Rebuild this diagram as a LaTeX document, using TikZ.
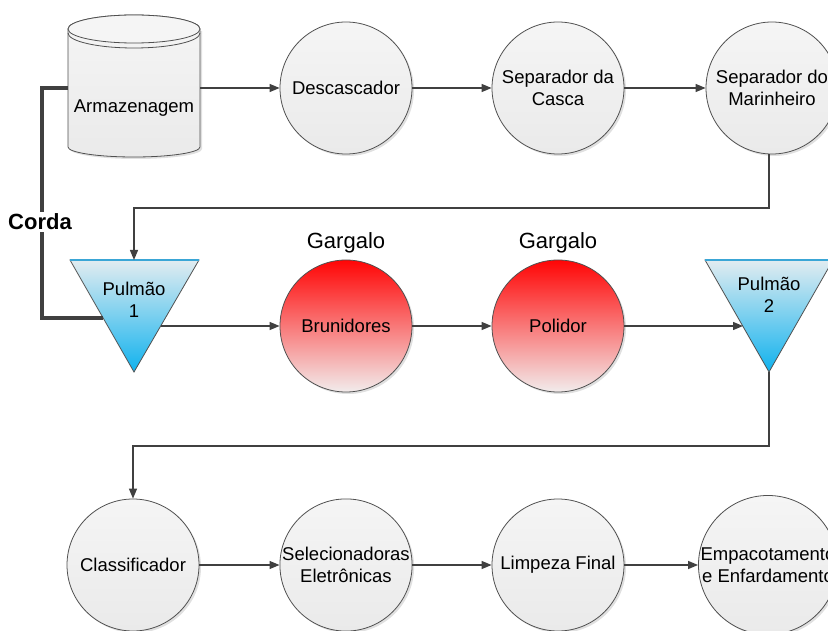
\documentclass[tikz,border=0pt]{standalone}
\usepackage{fontspec}
\setmainfont{Liberation Sans}
\usetikzlibrary{arrows.meta,shadows}
\definecolor{ln}{HTML}{404040}
\definecolor{edge}{HTML}{505050}
\definecolor{graytop}{HTML}{F5F5F5}
\definecolor{graybot}{HTML}{EAEAEA}
\definecolor{hottop}{HTML}{FF0505}
\definecolor{hotbot}{HTML}{F2ECEC}
\definecolor{bufftop}{HTML}{E2ECF0}
\definecolor{buffbot}{HTML}{10B2EE}
\definecolor{buffrim}{HTML}{3AA6D6}
\begin{document}
\begin{tikzpicture}[x=1pt,y=-1pt,
  txt/.style={font=\fontsize{18.5}{22}\selectfont,align=center},
  proc/.style={circle,draw=edge,line width=0.8pt,minimum size=132pt,inner sep=0pt,
    txt,top color=graytop,bottom color=graybot,
    drop shadow={shadow xshift=2pt,shadow yshift=-2pt,fill=black,opacity=.12}},
  hot/.style={proc,top color=hottop,bottom color=hotbot},
  buffer/.style={draw=edge,line width=0.8pt,top color=bufftop,bottom color=buffbot},
  arr/.style={draw=ln,line width=1.3pt,-{Triangle[length=10pt,width=8pt]}},
  rope/.style={draw=ln,line width=4pt},
  tag/.style={font=\fontsize{22}{26}\selectfont},
]
\clip (0,0) rectangle (828,631);

% storage cylinder
\fill[black,opacity=.12] (70,31) -- (70,149) arc[start angle=180,end angle=360,x radius=66pt,y radius=10pt] -- (202,31) -- cycle;
\path[draw=edge,line width=0.8pt,top color=graytop,bottom color=graybot]
  (68,29) -- (68,147) arc[start angle=180,end angle=360,x radius=66pt,y radius=10pt]
  -- (200,29) arc[start angle=0,end angle=180,x radius=66pt,y radius=14pt] -- cycle;
\draw[edge,line width=0.8pt,fill=graytop] (134,29) ellipse[x radius=66pt,y radius=14pt];
\draw[edge,line width=0.8pt] (68,33) arc[start angle=180,end angle=360,x radius=66pt,y radius=15pt];
\node[txt] (arm) at (134,108) {Armazenagem};
\coordinate (armE) at (200,88);
\coordinate (armW) at (68,88);

% first row
\node[proc] (desc) at (346,88) {Descascador};
\node[proc] (sepc) at (558,88) {Separador da\\Casca};
\node[proc] (sepm) at (772,88) {Separador do\\Marinheiro};

% buffers
\path[buffer] (70,260) -- (199,260) -- (134,372) -- cycle;
\draw[buffrim,line width=1.2pt] (70,260) -- (199,260);
\node[txt] (p1) at (134,300) {Pulmão\\1};
\coordinate (p1top) at (134,260);
\coordinate (p1out) at (161,326);
\coordinate (p1in) at (103,318);

\path[buffer] (705,260) -- (833,260) -- (769,372) -- cycle;
\draw[buffrim,line width=1.2pt] (705,260) -- (833,260);
\node[txt] (p2) at (769,295) {Pulmão\\2};
\coordinate (p2in) at (743,326);
\coordinate (p2tip) at (769,372);

% bottlenecks
\node[hot] (brun) at (346,326) {Brunidores};
\node[hot] (pol) at (558,326) {Polidor};
\node[tag] (g1) at (346,243) {Gargalo};
\node[tag] (g2) at (558,243) {Gargalo};

% third row
\node[proc] (cls) at (133,565) {Classificador};
\node[proc] (sel) at (346,565) {Selecionadoras\\Eletrônicas};
\node[proc] (lim) at (558,565) {Limpeza Final};
\node[proc] (emp) at (768,565) {Empacotamento\\e Enfardamento};

% turning points of the return lines
\coordinate (r1) at (0,208);
\coordinate (r2) at (0,446);

% flow
\draw[arr] (armE) -- (desc);
\draw[arr] (desc) -- (sepc);
\draw[arr] (sepc) -- (sepm);
\draw[arr] (sepm.south -| p2tip) -- (p2tip |- r1) -| (p1top);
\draw[arr] (p1out) -- (brun);
\draw[arr] (brun) -- (pol);
\draw[arr] (pol) -- (p2in);
\draw[arr] (p2tip) -- (p2tip |- r2) -| (cls.north);
\draw[arr] (cls) -- (sel);
\draw[arr] (sel) -- (lim);
\draw[arr] (lim) -- (emp);

% rope from the buffer back to storage
\coordinate (c1) at (42,88);
\coordinate (c2) at (42,318);
\draw[rope] (armW) -- (c1) -- (c2) -- (p1in);
\node[tag,font=\fontsize{22}{26}\selectfont\bfseries,fill=white,inner sep=2pt] (corda) at (40,222) {Corda};
\end{tikzpicture}
\end{document}
